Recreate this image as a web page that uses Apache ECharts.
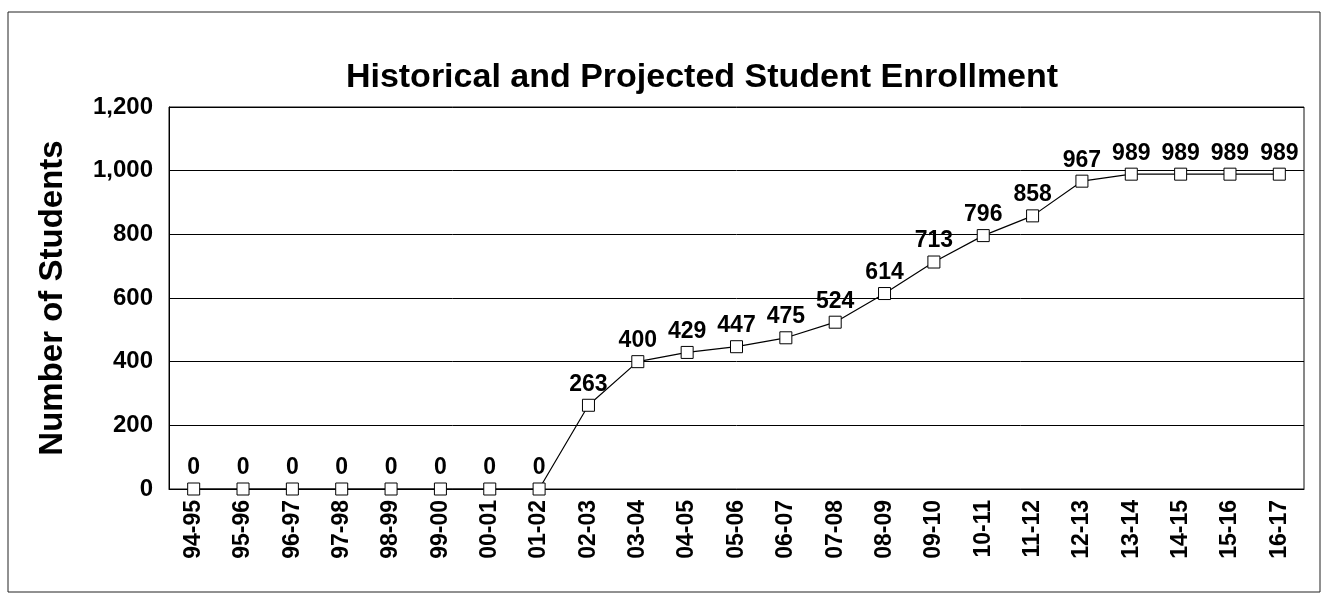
<!DOCTYPE html>
<html>
<head>
<meta charset="utf-8">
<script src="https://cdn.jsdelivr.net/npm/echarts@6/dist/echarts.min.js"></script>
<style>
  html, body { margin: 0; padding: 0; background: #fff; }
  #main { width: 1329px; height: 596px; }
</style>
</head>
<body>
<div id="main"></div>
<script>
// 学年
const years = ['94-95', '95-96', '96-97', '97-98', '98-99', '99-00', '00-01', '01-02',
    '02-03', '03-04', '04-05', '05-06', '06-07', '07-08', '08-09', '09-10', '10-11',
    '11-12', '12-13', '13-14', '14-15', '15-16', '16-17'];
// 学生人数
const enrollment = [0, 0, 0, 0, 0, 0, 0, 0, 263, 400, 429, 447, 475, 524, 614, 713, 796,
    858, 967, 989, 989, 989, 989];

const font = '"Liberation Sans", Arial, sans-serif';

function initChart() {
    const chart = echarts.init(document.getElementById('main'));
    chart.setOption({
        animation: false,
        title: {
            text: 'Historical and Projected Student Enrollment',
            left: 697, top: 56, textAlign: 'center',
            textStyle: { fontFamily: font, fontSize: 34, fontWeight: 'bold', color: '#000' }
        },
        graphic: [{
            type: 'rect',
            shape: { x: 8, y: 12, width: 1312, height: 580 },
            style: { fill: 'none', stroke: '#222', lineWidth: 1 }
        }, {
            type: 'rect',
            shape: { x: 169, y: 107, width: 1135, height: 382 },
            style: { fill: 'none', stroke: '#111', lineWidth: 1 }
        }],
        grid: { left: 169, right: 25, top: 107, bottom: 107 },
        xAxis: {
            type: 'category',
            data: years,
            axisLine: { lineStyle: { color: '#000' } },
            axisTick: { show: false },
            axisLabel: {
                rotate: 90, margin: 11, color: '#000',
                fontFamily: font, fontSize: 23, fontWeight: 'bold'
            }
        },
        yAxis: {
            type: 'value',
            min: 0, max: 1200, interval: 200,
            name: 'Number of Students',
            nameLocation: 'middle',
            nameGap: 100,
            nameTextStyle: { fontFamily: font, fontSize: 33, fontWeight: 'bold', color: '#000' },
            axisLine: { show: true, lineStyle: { color: '#000' } },
            axisTick: { show: false },
            splitLine: { lineStyle: { color: '#000', width: 1 } },
            axisLabel: {
                margin: 16, color: '#000',
                fontFamily: font, fontSize: 24, fontWeight: 'bold',
                formatter: v => v.toLocaleString('en-US')
            }
        },
        series: [{
            type: 'line',
            data: enrollment,
            symbol: 'rect',
            symbolSize: 12,
            itemStyle: { color: '#fff', borderColor: '#000', borderWidth: 1 },
            lineStyle: { color: '#000', width: 1.2 },
            label: {
                show: true, position: 'top', distance: 3, color: '#000',
                fontFamily: font, fontSize: 23, fontWeight: 'bold'
            }
        }]
    });
}

document.addEventListener('DOMContentLoaded', initChart);
</script>
</body>
</html>
